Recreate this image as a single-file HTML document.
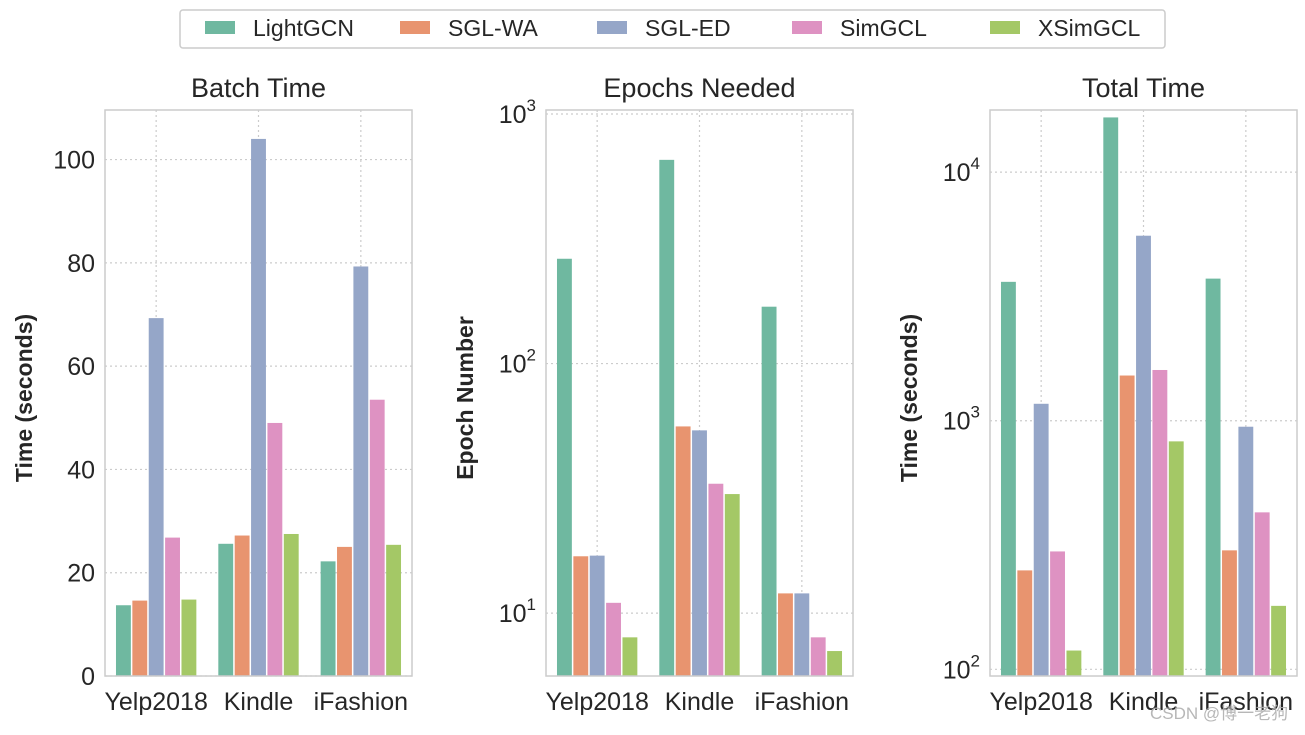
<!DOCTYPE html>
<html><head><meta charset="utf-8"><style>
body{margin:0;background:#fff;width:1305px;height:730px;overflow:hidden;font-family:"Liberation Sans","Noto Sans CJK SC",sans-serif;}
svg text{font-family:"Liberation Sans","Noto Sans CJK SC",sans-serif;fill:#262626;}
</style></head><body>
<svg id="chart" width="1305" height="730" xmlns="http://www.w3.org/2000/svg"></svg>
<script>
const categories = ["Yelp2018","Kindle","iFashion"];
const methods = ["LightGCN","SGL-WA","SGL-ED","SimGCL","XSimGCL"];
const colors = ["#6fb8a0","#e8946f","#95a6c8","#de92c2","#a4c866"];
const batchTime = [[13.7,25.6,22.2],[14.6,27.2,25.0],[69.3,104,79.3],[26.8,49,53.5],[14.8,27.5,25.4]];
const epochsNeeded = [[263,655,169],[16.9,56,12],[17,54,12],[11,33,8],[8,30,7.05]];
const totalTime = [[3620,16600,3730],[250,1520,301],[1170,5550,946],[298,1600,428],[119,826,180]];
const batchTicks = [0,20,40,60,80,100];
const epochTicks = [1,2,3];
const totalTicks = [2,3,4];

const svg = document.getElementById('chart');
const NS = "http://www.w3.org/2000/svg";
function mk(tag, attrs, parent){const e=document.createElementNS(NS,tag);for(const k in attrs)e.setAttribute(k,attrs[k]);(parent||svg).appendChild(e);return e;}

const panels = [
 {x0:105,title:"Batch Time",ylabel:"Time (seconds)",data:batchTime,log:false,min:0,max:109.6,ticks:batchTicks,name:"batch-time"},
 {x0:546,title:"Epochs Needed",ylabel:"Epoch Number",data:epochsNeeded,log:true,min:Math.log10(5.6),max:3.016,ticks:epochTicks,name:"epochs-needed"},
 {x0:990,title:"Total Time",ylabel:"Time (seconds)",data:totalTime,log:true,min:Math.log10(94),max:4.25,ticks:totalTicks,name:"total-time"}
];
const plotTop=110,plotBottom=676,W=307;
panels.forEach(p=>{
  const g=mk('g',{});
  
  
  const ys=v=>{const t=p.log?Math.log10(v):v;return plotBottom-(t-p.min)/(p.max-p.min)*(plotBottom-plotTop);};
  const xs=c=>p.x0+(c+0.5)/3*W;
  categories.forEach((c,i)=>{const l=mk('line',{x1:xs(i),x2:xs(i),y1:plotTop,y2:plotBottom,stroke:"#cccccc","stroke-dasharray":"2,3","stroke-width":1.2},g);
    });
  p.ticks.forEach(t=>{const yy=p.log?ys(Math.pow(10,t)):ys(t);
    const l=mk('line',{x1:p.x0,x2:p.x0+W,y1:yy,y2:yy,stroke:"#cccccc","stroke-dasharray":"2,3","stroke-width":1.2},g);
    
    const tx=mk('text',{x:p.x0-10,y:yy+9,"text-anchor":"end","font-size":25},g);
    
    if(p.log){tx.textContent="10";const s=mk('tspan',{dy:-12,"font-size":17},tx);s.textContent=String(t);}
    else tx.textContent=String(t);
  });
  const bw=W/3*0.8/5;
  p.data.forEach((ser,m)=>{ser.forEach((v,i)=>{
    const x=p.x0+(i+0.1)/3*W+m*bw;const y=ys(v);
    const r=mk('rect',{x:x+0.75,y:y,width:bw-1.5,height:plotBottom-y,fill:colors[m]},g);
    
    
  });});
  const f=mk('rect',{x:p.x0,y:plotTop,width:W,height:plotBottom-plotTop,fill:"none",stroke:"#cccccc","stroke-width":1.5},g);
  
  categories.forEach((c,i)=>{const t=mk('text',{x:xs(i),y:710,"text-anchor":"middle","font-size":25},g);t.textContent=c;
    });
  const tt=mk('text',{x:p.x0+W/2,y:97,"text-anchor":"middle","font-size":27},g);tt.textContent=p.title;
  
  const yl=mk('text',{x:0,y:0,"text-anchor":"middle","font-size":23,"font-weight":"bold",transform:`translate(${p.x0-73},${(plotTop+plotBottom)/2+5}) rotate(-90)`},g);
  yl.textContent=p.ylabel;
  
});
const lg=mk('g',{});


mk('rect',{x:180,y:10,width:985,height:38,rx:3,fill:"#fff",stroke:"#cccccc","stroke-width":1.5},lg);
const lx=[205,400,597,792,990];
methods.forEach((m,i)=>{
  const sw=mk('rect',{x:lx[i],y:21,width:30,height:13,fill:colors[i]},lg);
  
  const t=mk('text',{x:lx[i]+48,y:36,"font-size":23},lg);t.textContent=m;
  
});
const wm=mk('text',{x:1150,y:719,"font-size":17,style:"fill:#b0b0b0;opacity:0.9"});
wm.textContent="CSDN @博一老狗";


</script>
</body></html>
